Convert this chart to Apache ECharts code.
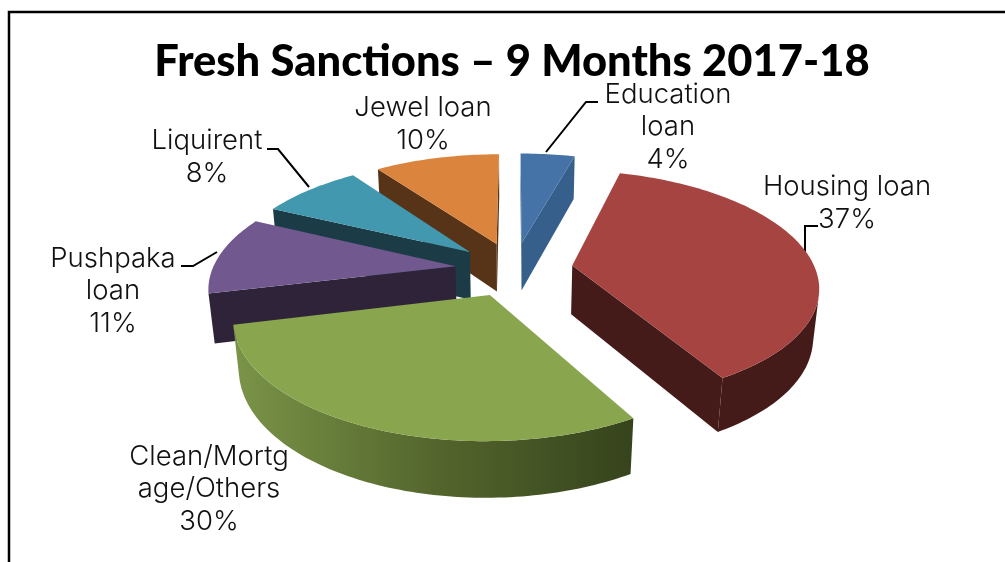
<!DOCTYPE html>
<html>
<head>
<meta charset="utf-8">
<title>Fresh Sanctions</title>
<script src="https://cdn.jsdelivr.net/npm/echarts@6/dist/echarts.min.js"></script>
<style>
  html, body { margin: 0; padding: 0; background: #fff; }
  #chart { width: 1005px; height: 562px; }
</style>
</head>
<body>
<div id="chart"></div>
<script>
const categories = ['Education loan', 'Housing loan', 'Clean/Mortgage/Others', 'Pushpaka loan', 'Liquirent', 'Jewel loan']
// printed as whole percents, decimals
const shares = [4.3, 37.4, 29.5, 10.9, 8.0, 9.9]
const labelLines = [['Education', 'loan'], ['Housing loan'], ['Clean/Mortg', 'age/Others'], ['Pushpaka', 'loan'], ['Liquirent'], ['Jewel loan']]

const topColors = ['#4673a7', '#a64442', '#89a54e', '#71588f', '#4198af', '#db843d']
const wallColors = [
  ['#365f8c', '#365f8c'],
  ['#451b19', '#451b19'],
  ['#7a9448', '#54662d', '#36431c'],
  ['#2e2339', '#2e2339'],
  ['#1b3c47', '#1b3c47'],
  ['#573318', '#573318']
]

// label centres and leader lines, same order as categories
const labelPos = [[668, 127], [847, 203], [209, 489], [113, 291], [207, 157], [423, 124]]
const leaders = [
  [[598, 102], [586, 102], [546, 152]],
  [[818, 226], [805, 226], [805, 252]],
  null,
  [[181, 266], [193, 266], [217, 252]],
  [[267, 149], [278, 149], [309, 187]],
  null
]

// camera for the tilted pie
const cx = 514, cy = 269
const radius = 243, thickness = 56, explode = 59
const tilt = 0.48, camDist = 1300
const sinT = Math.sin(tilt), cosT = Math.cos(tilt)

function project (u, v, w) {
  const k = camDist / (camDist - v * cosT - w * sinT)
  return [cx + u * k, cy + (v * sinT - w * cosT) * k]
}

function area (pts) {
  let s = 0
  pts.forEach((p, i) => {
    const q = pts[(i + 1) % pts.length]
    s += p[0] * q[1] - q[0] * p[1]
  })
  return s / 2
}

function renderSlice (params, api) {
  const i = params.dataIndex
  const a0 = api.value(0) / 100 * Math.PI * 2
  const a1 = api.value(1) / 100 * Math.PI * 2
  const mid = (a0 + a1) / 2
  const ou = Math.sin(mid) * explode, ov = -Math.cos(mid) * explode

  const ring = []
  const steps = Math.max(6, Math.round((a1 - a0) / 0.02))
  for (let s = 0; s <= steps; s++) {
    const a = a0 + (a1 - a0) * s / steps
    ring.push([ou + Math.sin(a) * radius, ov - Math.cos(a) * radius])
  }
  const apex = [ou, ov]
  const top = p => project(p[0], p[1], 0)
  const bot = p => project(p[0], p[1], -thickness)

  const stops = wallColors[i].map((c, n, all) => ({ offset: n / (all.length - 1), color: c }))
  const wallFill = { type: 'linear', x: 0, y: 0, x2: 1, y2: 0, colorStops: stops }
  const z2 = Math.round(-Math.cos(mid) * 100) + 200
  const children = []
  const addWall = pts => children.push({
    type: 'polygon',
    z2,
    shape: { points: pts },
    style: { fill: wallFill }
  })

  // only the faces turned to the camera
  const radialA = [apex, ring[0]]
  const radialB = [ring[ring.length - 1], apex]
  ;[radialA, radialB].forEach(e => {
    const quad = [top(e[0]), top(e[1]), bot(e[1]), bot(e[0])]
    if (area(quad) < 0) addWall(quad)
  })

  const visible = []
  for (let s = 0; s < ring.length - 1; s++) {
    const quad = [top(ring[s]), top(ring[s + 1]), bot(ring[s + 1]), bot(ring[s])]
    if (area(quad) < 0) visible.push(s, s + 1)
  }
  if (visible.length) {
    const from = Math.min(...visible), to = Math.max(...visible)
    const run = ring.slice(from, to + 1)
    addWall(run.map(top).concat(run.slice().reverse().map(bot)))
  }

  children.push({
    type: 'polygon',
    z2: z2 + 1,
    shape: { points: [top(apex)].concat(ring.map(top)) },
    style: { fill: topColors[i] }
  })
  return { type: 'group', children }
}

let acc = 0
const rows = shares.map((v, i) => {
  const row = [acc, acc + v, categories[i]]
  acc += v
  return row
})

const graphics = [{
  type: 'polyline',
  shape: { points: [[9, 562], [9, 12], [1005, 12]] },
  style: { stroke: '#000', lineWidth: 2.5, fill: null }
}]
categories.forEach((c, i) => {
  graphics.push({
    type: 'text',
    x: labelPos[i][0],
    y: labelPos[i][1],
    style: {
      text: labelLines[i].concat(Math.round(shares[i]) + '%').join('\n'),
      font: '300 27.5px Inter, Lato, sans-serif',
      fill: '#111',
      align: 'center',
      verticalAlign: 'middle',
      lineHeight: 32.5
    }
  })
  if (leaders[i]) {
    graphics.push({
      type: 'polyline',
      shape: { points: leaders[i] },
      style: { stroke: '#000', lineWidth: 2, fill: null }
    })
  }
})

const chart = echarts.init(document.getElementById('chart'))
chart.setOption({
  animation: false,
  title: {
    text: 'Fresh Sanctions – 9 Months 2017-18',
    left: 507,
    top: 35,
    textAlign: 'center',
    textStyle: { fontFamily: 'Lato, sans-serif', fontWeight: 900, fontSize: 43.5, color: '#000' }
  },
  graphic: graphics,
  series: [{
    type: 'custom',
    coordinateSystem: 'none',
    silent: true,
    data: rows,
    renderItem: renderSlice
  }]
})
</script>
</body>
</html>
